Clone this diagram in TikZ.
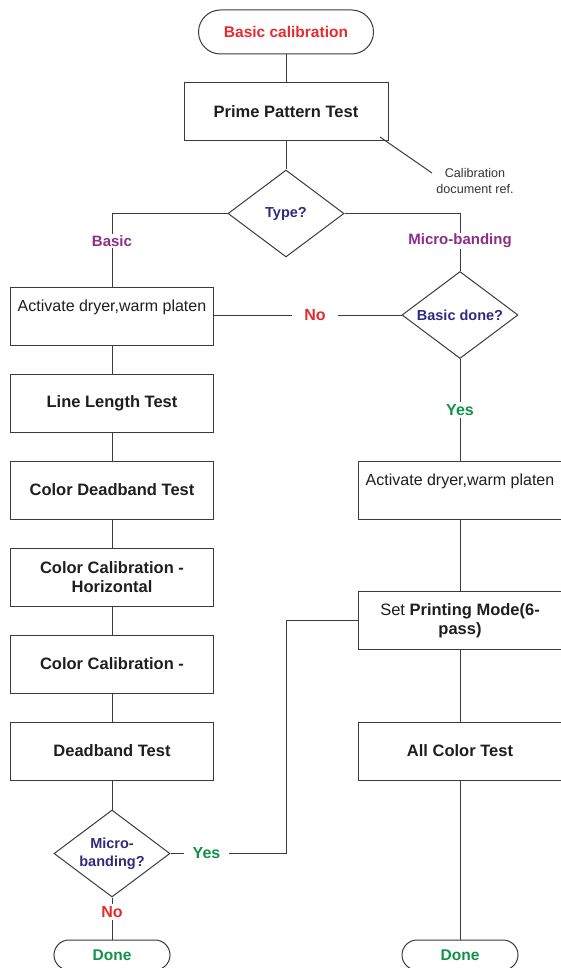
\documentclass[tikz,border=0pt]{standalone}
\usepackage{fontspec}
\setmainfont{Liberation Sans}
\usetikzlibrary{shapes.geometric}

\definecolor{linec}{HTML}{3A3A3A}
\definecolor{inkc}{HTML}{1E1E1E}
\definecolor{startred}{HTML}{E42B2E}
\definecolor{branchpurple}{HTML}{8C2D88}
\definecolor{asknavy}{HTML}{2E2B7F}
\definecolor{yesgreen}{HTML}{11924A}
\definecolor{notec}{HTML}{333333}

\tikzset{
  conn/.style={draw=linec, line width=1pt},
  procbox/.style={draw=linec, line width=1pt, minimum width=203pt, minimum height=58pt,
    inner sep=2pt, align=center, text=inkc,
    font=\fontsize{16.5pt}{19.5pt}\selectfont\bfseries},
  boxtext/.style={inner sep=0pt, text=inkc, font=\fontsize{16pt}{19.5pt}\selectfont},
  term/.style={draw=linec, line width=1pt, rounded corners=22pt, minimum height=44pt,
    inner sep=0pt, font=\fontsize{15.5pt}{18pt}\selectfont\bfseries},
  endterm/.style={term, rounded corners=15pt, minimum height=30pt, minimum width=116pt,
    text=yesgreen},
  decision/.style={diamond, draw=linec, line width=1pt, minimum width=116pt,
    minimum height=87pt, inner sep=0pt, aspect=1.33, align=center, text=asknavy,
    font=\fontsize{14.5pt}{18pt}\selectfont\bfseries},
  branch/.style={inner xsep=2pt, inner ysep=1pt, text=branchpurple,
    font=\fontsize{15pt}{18pt}\selectfont\bfseries},
  edgelbl/.style={inner xsep=9pt, inner ysep=2pt,
    font=\fontsize{16pt}{18pt}\selectfont\bfseries},
  note/.style={align=center, inner sep=0pt, text=notec,
    font=\fontsize{12.6pt}{15.4pt}\selectfont},
}

\begin{document}
\begin{tikzpicture}[x=1pt, y=-1pt]
\useasboundingbox (0,0) rectangle (560,968);

% start and first test
\node[term, text=startred, minimum width=175pt] (start) at (286,32) {Basic calibration};
\node[procbox, minimum width=204pt] (prime) at (286,112) {Prime Pattern Test};
\coordinate (callA) at (380,137);
\coordinate (callB) at (432,173);
\node[note] (calnote) at (475,181) {Calibration\\document ref.};

% type decision
\node[decision] (type) at (286,213.5) {Type?};
\coordinate (typeL) at (112,213.5);
\coordinate (typeR) at (460,213.5);
\node[branch] (lblbasic) at (112,241) {Basic};
\node[branch] (lblmicro) at (460,241) {Micro-banding};

% basic column
\node[procbox] (act1) at (112,316) {};
\node[boxtext] (act1t) at (112,307) {Activate dryer,warm platen};
\node[procbox] (linelen) at (112,403) {Line Length Test};
\node[procbox] (deadcol) at (112,490) {Color Deadband Test};
\node[procbox] (calh) at (112,577) {Color Calibration -\\Horizontal};
\node[procbox] (calv) at (112,664) {Color Calibration -};
\node[procbox] (dead) at (112,751) {Deadband Test};
\node[decision] (askmicro) at (112,853.5) {Micro-\\banding?};
\node[edgelbl, text=startred] (nobot) at (112,912) {No};
\node[endterm] (doneL) at (112,955) {Done};
\node[edgelbl, text=yesgreen] (yesL) at (206.5,853.5) {Yes};
\coordinate (jogB) at (286.5,853.5);
\coordinate (jogT) at (286.5,620.5);

% micro-banding column
\node[decision] (askbasic) at (460,315) {Basic done?};
\node[edgelbl, inner xsep=12pt, text=startred] (nomid) at (315,315) {No};
\node[edgelbl, text=yesgreen] (yesR) at (460,410) {Yes};
\node[procbox] (act2) at (460,490) {};
\node[boxtext] (act2t) at (460,481) {Activate dryer,warm platen};
\node[procbox] (mode) at (460,620.5) {\mdseries Set \bfseries Printing Mode(6-\\pass)};
\node[procbox] (allc) at (460,751) {All Color Test};
\node[endterm] (doneR) at (460,955) {Done};

% connectors
\draw[conn] (start) -- (prime);
\draw[conn] (prime) -- (type);
\draw[conn] (callA) -- (callB);
\draw[conn] (type.west) -- (typeL) -- (lblbasic.north);
\draw[conn] (lblbasic.south) -- (act1.north);
\draw[conn] (type.east) -- (typeR) -- (lblmicro.north);
\draw[conn] (lblmicro.south) -- (askbasic.north);
\draw[conn] (act1) -- (linelen);
\draw[conn] (linelen) -- (deadcol);
\draw[conn] (deadcol) -- (calh);
\draw[conn] (calh) -- (calv);
\draw[conn] (calv) -- (dead);
\draw[conn] (dead) -- (askmicro);
\draw[conn] (askmicro.south) -- (nobot.north);
\draw[conn] (nobot.south) -- (doneL.north);
\draw[conn] (askmicro.east) -- (yesL.west);
\draw[conn] (yesL.east) -- (jogB) -- (jogT) -- (mode.west);
\draw[conn] (askbasic.west) -- (nomid.east);
\draw[conn] (nomid.west) -- (act1.east |- nomid.west);
\draw[conn] (askbasic.south) -- (yesR.north);
\draw[conn] (yesR.south) -- (act2.north);
\draw[conn] (act2) -- (mode);
\draw[conn] (mode) -- (allc);
\draw[conn] (allc) -- (doneR);
\end{tikzpicture}
\end{document}
